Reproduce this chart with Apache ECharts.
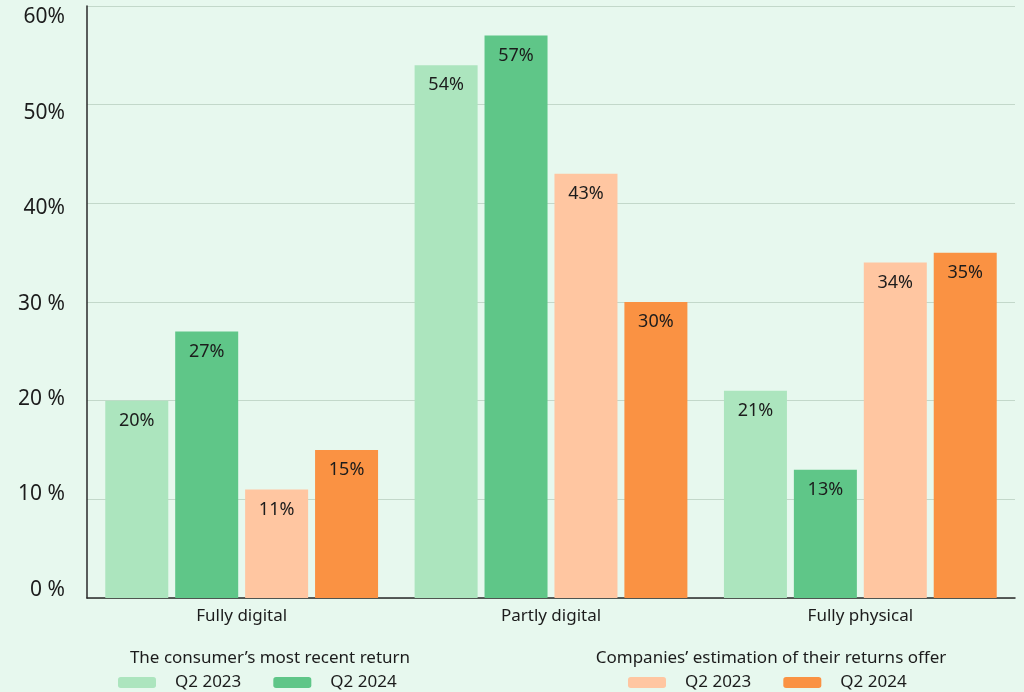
<!DOCTYPE html>
<html>
<head>
<meta charset="utf-8">
<script src="https://cdn.jsdelivr.net/npm/echarts@6/dist/echarts.min.js"></script>
<style>
html,body{margin:0;padding:0;background:#e7f8ee;}
#c{width:1024px;height:692px;}
</style>
</head>
<body>
<div id="c"></div>
<script>
const categories = ['Fully digital', 'Partly digital', 'Fully physical'];
const consumer2023 = [20, 54, 21];
const consumer2024 = [27, 57, 13];
const companies2023 = [11, 43, 34];
const companies2024 = [15, 30, 35];
const yTickValues = [0, 10, 20, 30, 40, 50, 60];
const yTickLabels = ['0 %', '10 %', '20 %', '30 %', '40%', '50%', '60%'];
const legendTitles = ["The consumer’s most recent return", "Companies’ estimation of their returns offer"];
const seriesNames = ['Consumer Q2 2023', 'Consumer Q2 2024', 'Companies Q2 2023', 'Companies Q2 2024'];

const FONT = '"Noto Sans", Lato, sans-serif';
const TXT = '#1c1c1c';
const colors = ['#ace5be', '#5fc688', '#ffc6a1', '#fa9243'];

// vertical nudges of y labels (style only): labels sit slightly off their gridlines in the reference
const rich = {};
yTickValues.forEach(function (v, i) {
  const d = Math.round(-8 + v * 0.32);
  rich['s' + i] = {
    fontSize: 21, color: TXT, fontFamily: FONT,
    padding: d >= 0 ? [2 * d, 0, 0, 0] : [0, 0, -2 * d, 0]
  };
});

const chart = echarts.init(document.getElementById('c'));
function mk(name, data, color) {
  return {
    name: name, type: 'bar', data: data, barWidth: 63, barGap: '11%',
    itemStyle: {color: color},
    label: {show: true, position: 'insideTop', distance: 11, formatter: '{c}%',
            color: TXT, fontSize: 18, fontFamily: FONT},
    emphasis: {disabled: true}
  };
}
const legendCommon = {
  orient: 'horizontal', bottom: -4, itemWidth: 38, itemHeight: 11, icon: 'roundRect',
  itemGap: 32, selectedMode: false,
  textStyle: {fontSize: 17, color: TXT, fontFamily: FONT, padding: [0, 0, 0, 14]},
  formatter: function (n) { return n.replace(/^(Consumer|Companies) /, ''); }
};
chart.setOption({
  backgroundColor: '#e7f8ee',
  animation: false,
  grid: {left: 87, right: 9, top: 6, bottom: 94, containLabel: false},
  xAxis: {
    type: 'category', data: categories,
    axisLine: {lineStyle: {color: '#2a2a2a', width: 1.5}},
    axisTick: {show: false},
    axisLabel: {fontSize: 17, color: TXT, fontFamily: FONT, margin: 10}
  },
  yAxis: {
    type: 'value', min: 0, max: 60, interval: 10,
    axisLine: {show: true, lineStyle: {color: '#2a2a2a', width: 1.5}},
    axisTick: {show: false},
    splitLine: {lineStyle: {color: '#c3d8ca', width: 1}},
    axisLabel: {margin: 22, rich: rich,
      formatter: function (v) {
        const i = yTickValues.indexOf(v);
        return '{s' + i + '|' + yTickLabels[i] + '}';
      }}
  },
  legend: [
    Object.assign({}, legendCommon, {left: 113, data: seriesNames.slice(0, 2)}),
    Object.assign({}, legendCommon, {left: 623, data: seriesNames.slice(2, 4)})
  ],
  graphic: [
    {type: 'text', x: 270, y: 658, style: {text: legendTitles[0], fontSize: 17, fill: TXT, fontFamily: FONT, align: 'center', verticalAlign: 'middle'}},
    {type: 'text', x: 771, y: 658, style: {text: legendTitles[1], fontSize: 17, fill: TXT, fontFamily: FONT, align: 'center', verticalAlign: 'middle'}}
  ],
  series: [
    mk(seriesNames[0], consumer2023, colors[0]),
    mk(seriesNames[1], consumer2024, colors[1]),
    mk(seriesNames[2], companies2023, colors[2]),
    mk(seriesNames[3], companies2024, colors[3])
  ]
});
</script>
</body>
</html>
